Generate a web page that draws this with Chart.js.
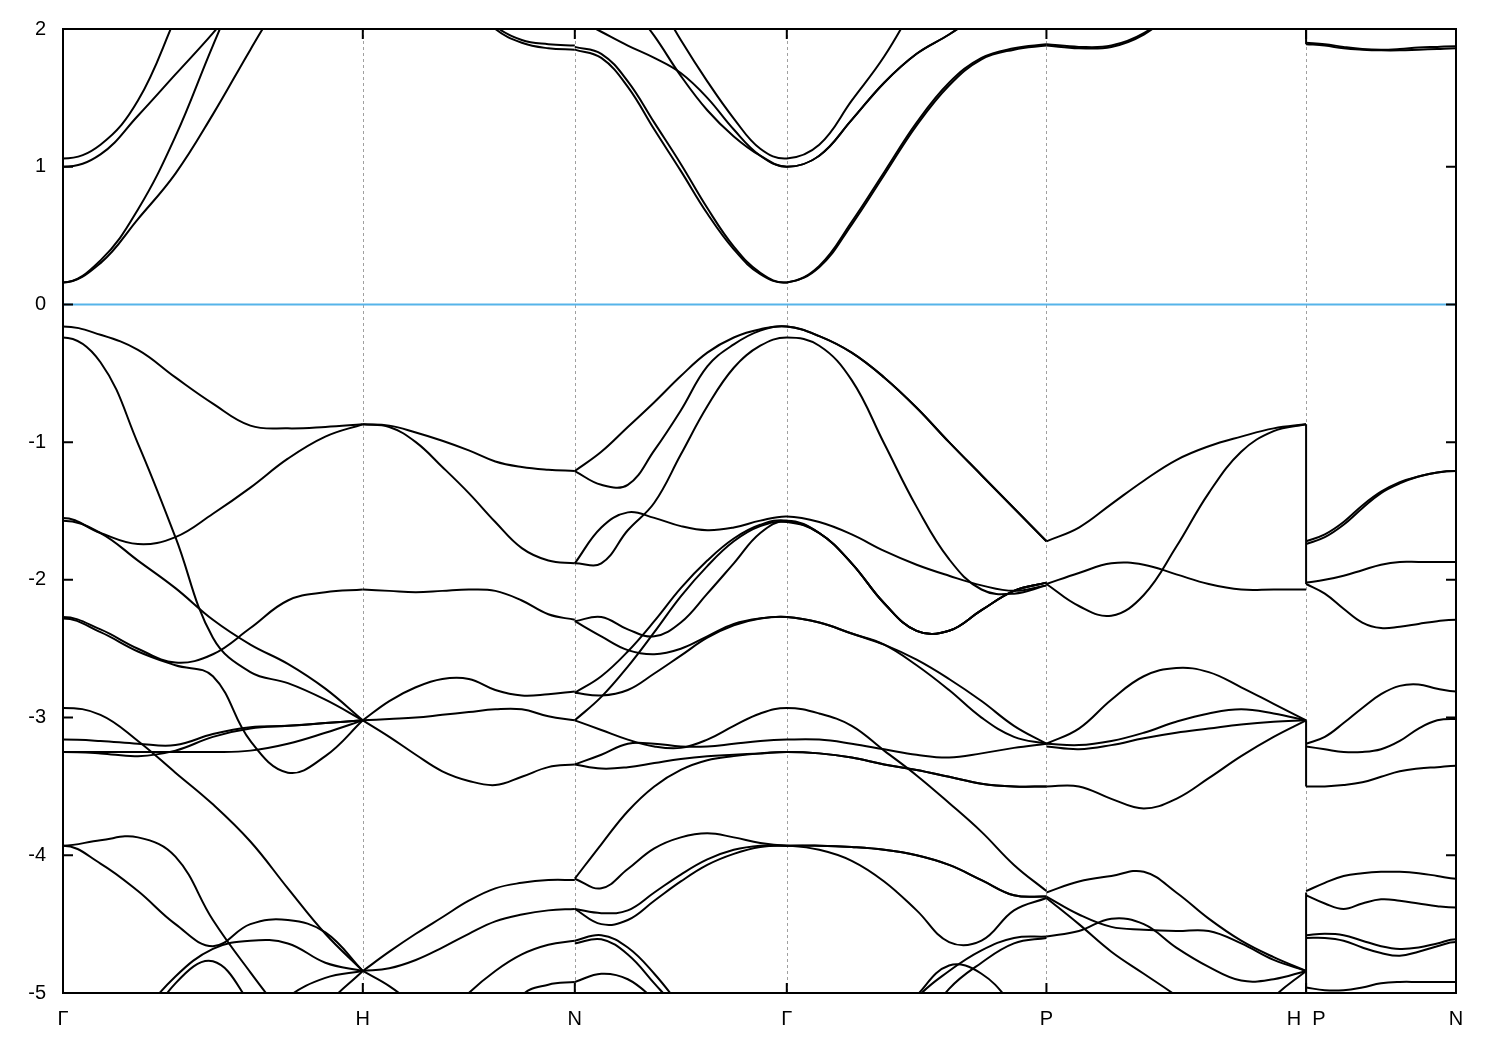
<!DOCTYPE html>
<html>
<head>
<meta charset="utf-8">
<script src="https://cdn.jsdelivr.net/npm/chart.js@4.4.0/dist/chart.umd.min.js"></script>
<style>
  body { margin: 0; background: #fff; }
  canvas { display: block; }
</style>
</head>
<body>
<canvas id="js--bands" width="1500" height="1050"></canvas>
<script>
// high symmetry points along the k-path
const kLabels = ["Γ", "H", "N", "Γ", "P", "H  P", "N"];
const kPos = [0, 1.0, 1.7071, 2.4142, 3.2802, 4.1463, 4.6463];

// energies (eV) sampled at 9 evenly spaced k-points on each segment
const bandsGH = [
    [0.16, 0.32, 0.69, 1.22, 1.88, 2.5, 3.0, 3.4, 3.7],
    [0.16, 0.30, 0.62, 0.95, 1.38, 1.85, 2.3, 2.7, 3.0],
    [1.00, 1.09, 1.37, 1.67, 1.97, 2.3, 2.6, 2.9, 3.2],
    [1.06, 1.16, 1.48, 2.08, 2.7, 3.2, 3.6, 4.0, 4.3],
    [-0.16, -0.22, -0.33, -0.53, -0.72, -0.88, -0.90, -0.89, -0.87],
    [-0.24, -0.42, -1.01, -1.69, -2.42, -2.67, -2.75, -2.87, -3.02],
    [-1.55, -1.66, -1.74, -1.69, -1.52, -1.33, -1.12, -0.96, -0.87],
    [-1.57, -1.66, -1.86, -2.06, -2.29, -2.47, -2.61, -2.79, -3.02],
    [-2.27, -2.36, -2.50, -2.60, -2.54, -2.35, -2.15, -2.09, -2.07],
    [-2.28, -2.38, -2.52, -2.62, -2.70, -3.17, -3.40, -3.28, -3.02],
    [-2.93, -2.98, -3.17, -3.40, -3.63, -3.90, -4.24, -4.57, -4.84],
    [-3.16, -3.17, -3.19, -3.20, -3.12, -3.07, -3.06, -3.04, -3.02],
    [-3.25, -3.26, -3.28, -3.24, -3.14, -3.08, -3.06, -3.04, -3.02],
    [-3.25, -3.25, -3.25, -3.25, -3.25, -3.24, -3.19, -3.11, -3.02],
    [-3.93, -4.06, -4.26, -4.50, -4.66, -4.50, -4.47, -4.56, -4.84],
    [-3.93, -3.89, -3.87, -4.01, -4.47, -4.85, -5.2, -5.5, -5.8],
    [-6.0, -5.8, -5.35, -4.93, -4.77, -5.08, -5.5, -5.9, -6.2],
    [-6.0, -5.6, -5.2, -4.88, -4.68, -4.62, -4.64, -4.78, -4.84],
    [-7.0, -6.6, -6.2, -5.9, -5.6, -5.3, -5.03, -4.89, -4.84],
    [-7.5, -7.2, -6.9, -6.6, -6.3, -5.9, -5.5, -5.1, -4.84]
];

const bandsHN = [
    [3.0, 2.85, 2.65, 2.45, 2.22, 2.02, 1.92, 1.89, 1.88],
    [3.0, 2.84, 2.63, 2.43, 2.2, 2.0, 1.9, 1.86, 1.85],
    [-0.87, -0.88, -0.93, -0.99, -1.06, -1.14, -1.18, -1.20, -1.21],
    [-0.87, -0.89, -1.00, -1.18, -1.37, -1.58, -1.77, -1.86, -1.88],
    [-2.07, -2.08, -2.09, -2.08, -2.07, -2.08, -2.15, -2.25, -2.29],
    [-3.02, -2.88, -2.78, -2.72, -2.72, -2.80, -2.84, -2.83, -2.81],
    [-3.02, -3.01, -3.00, -2.98, -2.96, -2.94, -2.94, -2.99, -3.02],
    [-3.02, -3.14, -3.27, -3.39, -3.46, -3.49, -3.43, -3.36, -3.34],
    [-4.84, -4.70, -4.57, -4.45, -4.33, -4.24, -4.20, -4.18, -4.18],
    [-4.84, -4.82, -4.76, -4.67, -4.57, -4.48, -4.43, -4.40, -4.39],
    [-6.0, -5.8, -5.5, -5.2, -5.0, -4.84, -4.72, -4.65, -4.62],
    [-6.8, -6.6, -6.4, -6.1, -5.8, -5.4, -5.02, -4.94, -4.92],
    [-4.84, -4.95, -5.1, -5.3, -5.5, -5.7, -5.9, -6.1, -6.3]
];

const bandsNG = [
    [1.87, 1.82, 1.62, 1.32, 1.02, 0.70, 0.42, 0.23, 0.16],
    [1.85, 1.79, 1.58, 1.27, 0.97, 0.66, 0.40, 0.22, 0.16],
    [2.08, 1.98, 1.88, 1.79, 1.68, 1.50, 1.27, 1.08, 1.00],
    [2.8, 2.5, 2.2, 1.95, 1.66, 1.41, 1.22, 1.08, 1.00],
    [3.2, 2.9, 2.55, 2.25, 1.92, 1.62, 1.35, 1.13, 1.06],
    [-1.21, -1.07, -0.89, -0.71, -0.52, -0.35, -0.24, -0.18, -0.16],
    [-1.21, -1.31, -1.31, -1.06, -0.77, -0.45, -0.29, -0.19, -0.16],
    [-1.88, -1.88, -1.64, -1.44, -1.09, -0.74, -0.46, -0.30, -0.24],
    [-1.88, -1.62, -1.51, -1.55, -1.61, -1.64, -1.62, -1.57, -1.54],
    [-2.30, -2.27, -2.36, -2.41, -2.31, -2.10, -1.88, -1.66, -1.57],
    [-2.30, -2.41, -2.51, -2.54, -2.50, -2.41, -2.32, -2.28, -2.27],
    [-2.82, -2.70, -2.52, -2.30, -2.06, -1.86, -1.70, -1.60, -1.57],
    [-3.02, -2.85, -2.63, -2.38, -2.12, -1.90, -1.72, -1.61, -1.58],
    [-2.82, -2.84, -2.80, -2.68, -2.55, -2.42, -2.33, -2.28, -2.27],
    [-3.02, -3.09, -3.16, -3.21, -3.22, -3.16, -3.06, -2.97, -2.93],
    [-3.34, -3.27, -3.19, -3.19, -3.21, -3.21, -3.19, -3.17, -3.16],
    [-3.34, -3.37, -3.36, -3.33, -3.30, -3.28, -3.27, -3.26, -3.25],
    [-4.17, -3.92, -3.68, -3.50, -3.38, -3.31, -3.28, -3.26, -3.25],
    [-4.17, -4.24, -4.10, -3.95, -3.87, -3.84, -3.87, -3.91, -3.93],
    [-4.39, -4.42, -4.40, -4.27, -4.14, -4.03, -3.96, -3.93, -3.93],
    [-4.39, -4.50, -4.47, -4.33, -4.19, -4.07, -3.99, -3.94, -3.93],
    [-4.62, -4.58, -4.67, -4.86, -5.1, -5.35, -5.6, -5.8, -6.0],
    [-4.64, -4.61, -4.72, -4.93, -5.15, -5.4, -5.65, -5.85, -6.05],
    [-4.92, -4.86, -4.90, -5.05, -5.25, -5.45, -5.65, -5.85, -6.0]
];

const bandsGP = [
    [0.16, 0.28, 0.60, 0.96, 1.32, 1.61, 1.79, 1.86, 1.89],
    [0.16, 0.27, 0.58, 0.94, 1.30, 1.59, 1.78, 1.85, 1.88],
    [1.00, 1.08, 1.34, 1.61, 1.82, 1.96, 2.12, 2.28, 2.4],
    [1.06, 1.16, 1.48, 1.80, 2.2, 2.6, 3.0, 3.3, 3.6],
    [-0.16, -0.23, -0.35, -0.53, -0.75, -1.00, -1.24, -1.48, -1.72],
    [-0.24, -0.30, -0.55, -1.01, -1.47, -1.85, -2.07, -2.10, -2.04],
    [-1.54, -1.58, -1.67, -1.79, -1.89, -1.97, -2.04, -2.08, -2.04],
    [-1.58, -1.66, -1.88, -2.17, -2.37, -2.37, -2.22, -2.08, -2.02],
    [-2.27, -2.31, -2.39, -2.47, -2.62, -2.80, -3.00, -3.14, -3.19],
    [-2.27, -2.31, -2.39, -2.47, -2.58, -2.72, -2.88, -3.06, -3.19],
    [-2.93, -2.97, -3.06, -3.24, -3.42, -3.62, -3.83, -4.07, -4.26],
    [-3.16, -3.16, -3.19, -3.23, -3.27, -3.29, -3.26, -3.22, -3.19],
    [-3.25, -3.26, -3.29, -3.34, -3.38, -3.43, -3.48, -3.50, -3.50],
    [-3.93, -3.93, -3.94, -3.96, -4.00, -4.07, -4.18, -4.29, -4.30],
    [-3.93, -3.96, -4.04, -4.19, -4.40, -4.63, -4.62, -4.40, -4.31],
    [-6.5, -6.2, -5.8, -5.4, -5.04, -4.84, -4.69, -4.60, -4.59],
    [-6.8, -6.5, -6.1, -5.7, -5.3, -4.97, -4.78, -4.64, -4.60],
    [-6.5, -6.1, -5.6, -5.3, -5.02, -4.80, -4.86, -5.1, -5.4]
];

// which Γ-P band continues each N-Γ band through Γ (-1: none)
const gammaLinks = [0, 1, 2, 2, 3, 4, 4, 5, 6, 7, 8, 7, 7, 9, 10, 11, 12, 12, 13, 14, 13, -1, -1, -1];

const bandsPH = [
    [1.89, 1.87, 1.88, 1.97, 2.15, 2.35, 2.55, 2.75, 2.9],
    [1.88, 1.86, 1.87, 1.96, 2.14, 2.34, 2.54, 2.74, 2.89],
    [-1.72, -1.62, -1.45, -1.28, -1.13, -1.03, -0.96, -0.90, -0.87],
    [-2.03, -2.19, -2.26, -2.11, -1.76, -1.37, -1.07, -0.92, -0.87],
    [-2.03, -1.95, -1.88, -1.89, -1.96, -2.03, -2.07, -2.07, -2.07],
    [-3.19, -3.08, -2.87, -2.70, -2.64, -2.67, -2.78, -2.90, -3.02],
    [-3.19, -3.20, -3.17, -3.11, -3.03, -2.97, -2.94, -2.97, -3.02],
    [-3.21, -3.23, -3.20, -3.15, -3.11, -3.08, -3.05, -3.03, -3.02],
    [-3.50, -3.50, -3.59, -3.66, -3.59, -3.44, -3.28, -3.14, -3.02],
    [-4.27, -4.19, -4.15, -4.12, -4.27, -4.46, -4.62, -4.74, -4.84],
    [-4.30, -4.43, -4.52, -4.54, -4.55, -4.55, -4.64, -4.76, -4.84],
    [-4.59, -4.55, -4.46, -4.50, -4.67, -4.81, -4.91, -4.90, -4.84],
    [-4.31, -4.50, -4.70, -4.86, -5.02, -5.2, -5.4, -5.6, -5.8],
    [-7.0, -6.7, -6.4, -6.1, -5.85, -5.6, -5.3, -5.03, -4.84]
];

const bandsPN = [
    [1.90, 1.89, 1.87, 1.855, 1.85, 1.855, 1.865, 1.87, 1.875],
    [1.89, 1.88, 1.86, 1.85, 1.845, 1.845, 1.85, 1.855, 1.86],
    [-1.72, -1.67, -1.58, -1.46, -1.36, -1.29, -1.25, -1.22, -1.21],
    [-1.74, -1.69, -1.60, -1.48, -1.37, -1.30, -1.25, -1.22, -1.21],
    [-2.02, -2.00, -1.97, -1.93, -1.89, -1.87, -1.87, -1.87, -1.87],
    [-2.03, -2.10, -2.21, -2.31, -2.35, -2.34, -2.32, -2.30, -2.29],
    [-3.19, -3.14, -3.04, -2.93, -2.83, -2.77, -2.76, -2.79, -2.81],
    [-3.21, -3.23, -3.25, -3.25, -3.23, -3.17, -3.08, -3.02, -3.01],
    [-3.50, -3.50, -3.49, -3.47, -3.43, -3.39, -3.37, -3.36, -3.35],
    [-4.26, -4.20, -4.15, -4.13, -4.12, -4.12, -4.13, -4.15, -4.17],
    [-4.29, -4.35, -4.39, -4.35, -4.32, -4.33, -4.35, -4.37, -4.38],
    [-4.58, -4.57, -4.58, -4.62, -4.66, -4.68, -4.67, -4.64, -4.61],
    [-4.60, -4.60, -4.62, -4.67, -4.71, -4.73, -4.70, -4.66, -4.63],
    [-4.96, -4.98, -4.98, -4.96, -4.93, -4.92, -4.92, -4.92, -4.92]
];

// vertical jumps where the path breaks at H|P (energy at H, energy at P)
const hpJumps = [[2.9, 1.89], [-0.87, -2.03], [-3.02, -3.50], [-4.27, -4.84], [-4.84, -5.4]];

const fermiLevel = 0;
const yTicks = [2, 1, 0, -1, -2, -3, -4, -5];

const BAND_COLOR = "#000";
const BAND_WIDTH = 2;

function toPoints(energies, a, b) {
    const x0 = kPos[a];
    const x1 = kPos[b];
    const n = energies.length;
    return energies.map((e, i) => ({ x: x0 + (x1 - x0) * i / (n - 1), y: e }));
}

function bandDataset(points, tension) {
    return {
        data: points,
        showLine: true,
        borderColor: BAND_COLOR,
        borderWidth: BAND_WIDTH,
        pointRadius: 0,
        tension: tension,
        clip: 0
    };
}

const datasets = [];

// fermi level first so the bands sit on top
datasets.push({
    data: [{ x: kPos[0], y: fermiLevel }, { x: kPos[kPos.length - 1], y: fermiLevel }],
    showLine: true,
    borderColor: "rgb(86, 180, 233)",
    borderWidth: 2,
    pointRadius: 0,
    tension: 0
});

// Γ-H: bands are symmetric around Γ, so the mirrored neighbour keeps the start flat
bandsGH.forEach(energies => {
    const pts = toPoints(energies, 0, 1);
    pts.unshift({ x: -pts[1].x, y: pts[1].y });
    datasets.push(bandDataset(pts, 0.4));
});

bandsHN.forEach(energies => datasets.push(bandDataset(toPoints(energies, 1, 2), 0.4)));

// N-Γ-P drawn as continuous curves through Γ
const usedGP = new Set();
bandsNG.forEach((energies, i) => {
    let pts = toPoints(energies, 2, 3);
    const j = gammaLinks[i];
    if (j >= 0) {
        pts = pts.concat(toPoints(bandsGP[j], 3, 4).slice(1));
        usedGP.add(j);
    }
    datasets.push(bandDataset(pts, 0.4));
});
bandsGP.forEach((energies, j) => {
    if (!usedGP.has(j)) datasets.push(bandDataset(toPoints(energies, 3, 4), 0.4));
});

bandsPH.forEach(energies => datasets.push(bandDataset(toPoints(energies, 4, 5), 0.4)));

// P-N: mirrored neighbour past N keeps the end flat
bandsPN.forEach(energies => {
    const pts = toPoints(energies, 5, 6);
    const n = pts.length;
    pts.push({ x: 2 * pts[n - 1].x - pts[n - 2].x, y: pts[n - 2].y });
    datasets.push(bandDataset(pts, 0.4));
});

hpJumps.forEach(([eH, eP]) => {
    datasets.push(bandDataset([{ x: kPos[5], y: eH }, { x: kPos[5], y: eP }], 0));
});

// dashed lines at the symmetry points, frame and inward ticks like gnuplot
const framePlugin = {
    id: "frame",
    beforeDatasetsDraw(chart) {
        const { ctx, chartArea, scales } = chart;
        ctx.save();
        ctx.strokeStyle = "#a0a0a0";
        ctx.lineWidth = 1;
        ctx.setLineDash([3, 3]);
        kPos.slice(1, -1).forEach(v => {
            const px = Math.round(scales.x.getPixelForValue(v)) + 0.5;
            ctx.beginPath();
            ctx.moveTo(px, chartArea.top);
            ctx.lineTo(px, chartArea.bottom);
            ctx.stroke();
        });
        ctx.restore();
    },
    afterDatasetsDraw(chart) {
        const { ctx, chartArea, scales } = chart;
        const { left, right, top, bottom } = chartArea;
        ctx.save();
        ctx.strokeStyle = "#000";
        ctx.lineWidth = 2;
        ctx.beginPath();
        yTicks.forEach(v => {
            const py = scales.y.getPixelForValue(v);
            ctx.moveTo(left, py);
            ctx.lineTo(left + 10, py);
            ctx.moveTo(right, py);
            ctx.lineTo(right - 10, py);
        });
        kPos.slice(1, -1).forEach(v => {
            const px = scales.x.getPixelForValue(v);
            ctx.moveTo(px, bottom);
            ctx.lineTo(px, bottom - 10);
            ctx.moveTo(px, top);
            ctx.lineTo(px, top + 10);
        });
        ctx.stroke();
        ctx.strokeRect(left, top, right - left, bottom - top);
        ctx.restore();
    }
};

const bandctx = document.getElementById("js--bands").getContext("2d");

const chart = new Chart(bandctx, {
    type: "scatter",
    data: { datasets: datasets },
    plugins: [framePlugin],
    options: {
        responsive: false,
        animation: false,
        layout: { padding: { top: 28, right: 44, left: 0, bottom: 0 } },
        plugins: {
            legend: { display: false },
            tooltip: { enabled: false }
        },
        scales: {
            x: {
                type: "linear",
                min: kPos[0],
                max: kPos[kPos.length - 1],
                grid: { display: false, drawTicks: false },
                border: { display: false },
                afterBuildTicks: scale => {
                    scale.ticks = kPos.map(v => ({ value: v }));
                },
                afterFit: scale => { scale.height = 57; },
                ticks: {
                    autoSkip: false,
                    maxRotation: 0,
                    padding: 14,
                    color: "#000",
                    font: { family: "'Liberation Sans', Arial, sans-serif", size: 20 },
                    callback: (value, index) => kLabels[index]
                }
            },
            y: {
                min: -5,
                max: 2,
                grid: { display: false, drawTicks: false },
                border: { display: false },
                afterFit: scale => { scale.width = 63; },
                ticks: {
                    stepSize: 1,
                    padding: 17,
                    color: "#000",
                    font: { family: "'Liberation Sans', Arial, sans-serif", size: 20 }
                }
            }
        }
    }
});
</script>
</body>
</html>
